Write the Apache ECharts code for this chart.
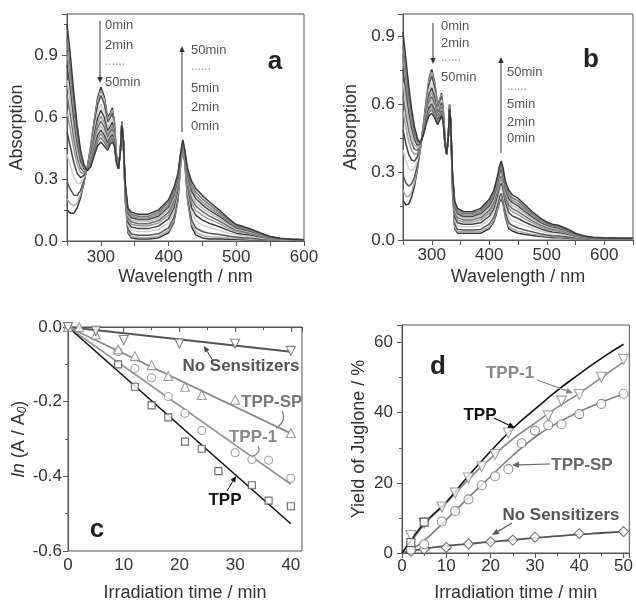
<!DOCTYPE html>
<html><head><meta charset="utf-8">
<script src="https://cdn.jsdelivr.net/npm/echarts@6/dist/echarts.min.js"></script>
<style>html,body{margin:0;padding:0;background:#fff}#c{width:636px;height:603px}</style>
</head><body><div id="c"></div>
<script>
// ---------- Panel a / b : spectra ----------
const timesMin = [0,2,5,10,15,20,25,30,35,40,45,50];
const wlA = [250,255,260,265,270,275,280,285,290,295,300,305,310,314,317,320,323,326,329,331,333,336,340,345,355,370,385,400,408,414,418,421,424,428,434,440,450,460,475,490,500,510,520,535,550,565,580,600];
const absA = [
[.15,.135,.135,.16,.21,.28,.36,.46,.58,.69,.745,.70,.60,.62,.645,.58,.42,.35,.45,.58,.50,.20,.04,.015,.01,.01,.015,.04,.09,.20,.38,.44,.38,.20,.07,.03,.015,.01,.01,.008,.008,.007,.006,.005,.005,.005,.005,.004],
[.204,.181,.17,.184,.224,.285,.359,.454,.57,.676,.729,.686,.59,.611,.635,.573,.418,.35,.449,.579,.50,.205,.047,.023,.017,.017,.023,.05,.10,.208,.383,.443,.384,.209,.083,.044,.027,.021,.018,.014,.012,.011,.009,.007,.006,.005,.005,.004],
[.285,.25,.223,.22,.245,.294,.357,.445,.554,.655,.705,.664,.576,.597,.62,.562,.414,.35,.449,.577,.50,.212,.058,.034,.028,.028,.035,.064,.116,.22,.388,.448,.389,.223,.103,.064,.046,.037,.031,.023,.019,.016,.014,.01,.008,.006,.006,.004],
[.42,.365,.311,.28,.279,.307,.354,.43,.529,.621,.665,.628,.552,.575,.595,.544,.408,.35,.447,.574,.50,.224,.076,.053,.046,.046,.056,.088,.141,.239,.395,.455,.398,.245,.136,.098,.077,.064,.052,.037,.03,.026,.022,.016,.01,.007,.006,.005],
[.528,.456,.381,.328,.307,.318,.352,.418,.509,.593,.634,.599,.533,.557,.576,.53,.403,.35,.446,.572,.50,.234,.09,.068,.06,.06,.072,.107,.161,.255,.401,.461,.405,.263,.162,.125,.101,.086,.069,.049,.038,.033,.029,.02,.012,.008,.007,.005],
[.627,.54,.445,.372,.332,.328,.349,.407,.49,.568,.605,.573,.515,.54,.558,.516,.399,.35,.445,.569,.50,.242,.104,.081,.074,.074,.087,.125,.18,.269,.407,.467,.412,.28,.187,.149,.124,.105,.084,.059,.046,.04,.035,.024,.014,.009,.007,.005],
[.708,.609,.498,.408,.353,.336,.348,.398,.475,.547,.581,.551,.501,.527,.543,.506,.395,.35,.444,.568,.50,.25,.114,.093,.084,.084,.099,.139,.195,.281,.411,.471,.417,.293,.206,.17,.142,.122,.097,.068,.053,.046,.039,.027,.016,.01,.007,.005],
[.78,.671,.545,.44,.371,.343,.346,.39,.461,.529,.559,.532,.488,.515,.529,.496,.392,.35,.443,.566,.50,.256,.124,.103,.094,.094,.11,.152,.209,.291,.415,.475,.422,.305,.224,.188,.159,.136,.108,.076,.058,.051,.044,.03,.017,.011,.008,.005],
[.852,.732,.591,.472,.389,.35,.344,.382,.447,.511,.538,.513,.475,.503,.516,.486,.389,.35,.442,.564,.50,.262,.134,.113,.104,.104,.12,.165,.223,.301,.419,.479,.427,.317,.242,.206,.175,.15,.119,.084,.064,.056,.048,.032,.018,.011,.008,.006],
[.915,.785,.632,.50,.406,.357,.343,.375,.435,.494,.52,.496,.464,.492,.505,.478,.386,.35,.442,.563,.50,.268,.142,.121,.112,.112,.13,.176,.235,.311,.423,.483,.431,.328,.257,.221,.189,.163,.129,.09,.069,.061,.052,.035,.019,.012,.008,.006],
[.978,.839,.673,.528,.422,.363,.342,.368,.424,.478,.501,.479,.453,.482,.493,.47,.383,.35,.441,.562,.50,.274,.15,.13,.12,.12,.139,.187,.246,.32,.426,.486,.435,.338,.272,.237,.204,.176,.139,.097,.074,.065,.056,.037,.021,.012,.009,.006],
[1.05,.90,.72,.56,.44,.37,.34,.36,.41,.46,.48,.46,.44,.47,.48,.46,.38,.35,.44,.56,.50,.28,.16,.14,.13,.13,.15,.20,.26,.33,.43,.49,.44,.35,.29,.255,.22,.19,.15,.105,.08,.07,.06,.04,.022,.013,.009,.006]
];
const wlB = [250,255,260,265,270,275,280,285,290,295,300,305,310,314,317,320,323,326,329,331,333,336,340,345,355,370,385,400,408,414,418,421,424,428,434,440,450,460,475,490,500,510,520,535,550,565,580,600,625,650];
const absB = [
[.175,.155,.16,.19,.24,.31,.40,.50,.61,.71,.755,.70,.60,.62,.65,.58,.45,.38,.47,.60,.52,.22,.05,.03,.03,.03,.03,.05,.08,.13,.17,.18,.16,.10,.05,.04,.03,.025,.02,.015,.012,.01,.01,.008,.007,.006,.005,.005,.004,.004],
[.22,.194,.191,.213,.256,.318,.402,.498,.604,.70,.743,.69,.595,.615,.644,.576,.448,.38,.469,.599,.52,.225,.057,.037,.036,.036,.037,.058,.088,.139,.18,.19,.17,.11,.06,.05,.039,.033,.026,.02,.016,.014,.013,.011,.008,.007,.005,.005,.004,.004],
[.287,.252,.238,.249,.279,.331,.405,.494,.595,.686,.726,.676,.586,.606,.635,.571,.446,.38,.469,.597,.52,.232,.068,.047,.044,.044,.047,.07,.101,.153,.194,.206,.184,.124,.076,.064,.053,.045,.036,.027,.022,.019,.018,.014,.01,.008,.006,.006,.005,.005],
[.399,.349,.316,.307,.318,.352,.409,.488,.58,.662,.696,.652,.573,.593,.62,.562,.441,.38,.467,.594,.52,.244,.086,.063,.059,.059,.063,.089,.122,.175,.218,.231,.208,.148,.101,.088,.077,.066,.052,.039,.032,.028,.027,.021,.014,.01,.007,.007,.005,.005],
[.488,.426,.378,.354,.349,.369,.413,.483,.568,.643,.673,.633,.562,.582,.608,.555,.437,.38,.466,.592,.52,.254,.10,.076,.07,.07,.076,.105,.139,.193,.237,.251,.227,.167,.121,.107,.095,.082,.064,.049,.041,.035,.033,.026,.017,.011,.008,.007,.006,.006],
[.57,.497,.436,.397,.378,.384,.416,.479,.557,.625,.652,.615,.552,.572,.597,.548,.434,.38,.465,.589,.52,.262,.114,.088,.08,.08,.088,.119,.154,.21,.255,.27,.245,.185,.14,.125,.112,.097,.076,.057,.048,.042,.039,.03,.019,.012,.009,.008,.006,.006],
[.637,.555,.482,.432,.401,.397,.419,.475,.548,.611,.634,.601,.544,.564,.588,.543,.431,.38,.464,.588,.52,.27,.124,.098,.089,.089,.098,.131,.167,.223,.269,.285,.259,.199,.155,.139,.126,.109,.085,.065,.054,.047,.044,.034,.021,.013,.009,.008,.006,.006],
[.697,.607,.524,.463,.422,.408,.421,.472,.54,.598,.618,.588,.537,.557,.58,.538,.429,.38,.463,.586,.52,.276,.134,.107,.097,.097,.107,.141,.178,.235,.282,.299,.272,.212,.169,.152,.139,.12,.094,.071,.06,.052,.049,.037,.023,.014,.01,.009,.007,.007],
[.756,.658,.566,.494,.443,.419,.423,.469,.532,.585,.603,.575,.53,.55,.572,.533,.427,.38,.462,.584,.52,.282,.144,.116,.104,.104,.116,.151,.189,.247,.295,.313,.285,.225,.183,.165,.151,.13,.102,.077,.065,.057,.053,.041,.025,.015,.01,.009,.007,.007],
[.808,.703,.602,.522,.461,.429,.426,.466,.525,.574,.589,.564,.523,.543,.565,.529,.425,.38,.462,.583,.52,.288,.152,.124,.111,.111,.124,.161,.199,.258,.306,.325,.296,.236,.195,.176,.162,.14,.109,.083,.07,.061,.057,.044,.027,.016,.011,.009,.007,.007],
[.86,.748,.638,.549,.479,.439,.428,.463,.518,.563,.576,.553,.517,.537,.558,.525,.422,.38,.461,.582,.52,.294,.16,.131,.117,.117,.131,.17,.209,.268,.317,.336,.307,.247,.206,.187,.173,.149,.117,.089,.075,.065,.061,.047,.028,.017,.011,.01,.008,.008],
[.92,.80,.68,.58,.50,.45,.43,.46,.51,.55,.56,.54,.51,.53,.55,.52,.42,.38,.46,.58,.52,.30,.17,.14,.125,.125,.14,.18,.22,.28,.33,.35,.32,.26,.22,.20,.185,.16,.125,.095,.08,.07,.065,.05,.03,.018,.012,.01,.008,.008]
];

// ---------- Panel c : ln(A/A0) ----------
const tC_tpp   = [0,9,12,15,18,21,24,27,33,36,40];
const lnC_tpp  = [0,-0.1,-0.16,-0.21,-0.242,-0.307,-0.326,-0.386,-0.424,-0.465,-0.48];
const tC_tpp1  = [0,9,12,15,18,21,24,30,33,36,40];
const lnC_tpp1 = [0,-0.066,-0.111,-0.136,-0.186,-0.231,-0.277,-0.337,-0.355,-0.357,-0.405];
const tC_sp    = [0,2,5,9,12,15,18,21,24,30,40];
const lnC_sp   = [0,0,-0.02,-0.06,-0.078,-0.102,-0.131,-0.16,-0.182,-0.195,-0.284];
const tC_none  = [0,5,10,20,30,40];
const lnC_none = [0,-0.01,-0.035,-0.044,-0.045,-0.064];
const tC_fit   = [0,40];
const fitC_tpp = [0,-0.527];
const fitC_tpp1= [0,-0.421];
const fitC_sp  = [0,-0.285];
const fitC_none= [0,-0.066];

// ---------- Panel d : yield of juglone ----------
const tD_fit      = [0,2,5,10,15,20,25,30,35,40,45,50];
const yD_tpp_fit  = [0,3.5,8.5,14.5,22,29,35.5,41,46.3,51,55.5,59.5];
const yD_tpp1_fit = [0,3.2,8,14.3,21,27,32.5,37,41.5,45.5,50,54.5];
const yD_sp_fit   = [0,1,3.5,9.5,15.8,21.8,27.8,33,37,40.3,43,45.3];
const yD_none_fit = [0,0.5,1.2,2,2.6,3.2,3.7,4.3,4.8,5.3,5.7,6.1];
const tD_tpp  = [2,5];
const yD_tpp  = [3,8.8];
const tD_tpp1 = [2,5,9,12,15,18,21,24,33,36,40,45,50];
const yD_tpp1 = [5,8.5,13.1,17.1,21.4,24.6,28.1,34.2,39.1,43.3,45.2,50.1,55.2];
const tD_sp   = [2,5,9,12,15,18,21,24,27,30,33,36,40,45,50];
const yD_sp   = [1,2.5,9,12,15.3,19.3,21.9,23.9,31.3,34.9,36.4,36.7,39.6,42.5,45.4];
const tD_none = [2,5,10,15,20,25,30,40,50];
const yD_none = [0.5,1.1,1.6,2.6,3.2,3.7,4.5,5.5,6.1];

// ---------- drawing ----------
const FONT = '"Liberation Sans", Arial, Helvetica, sans-serif';
const zip = (xs, ys) => xs.map((x, i) => [x, ys[i]]);
const isMult = (v, step) => Math.abs(v / step - Math.round(v / step)) < 1e-6;
const grays = ['#333','#aaa','#555','#cfcfcf','#444','#9a9a9a','#6a6a6a','#bdbdbd','#4a4a4a','#8a8a8a','#777','#3a3a3a'];

const grids = [
  {left:67, top:14, width:237, height:227},
  {left:403, top:14, width:232, height:226},
  {left:68, top:327, width:234, height:224},
  {left:402, top:325, width:231, height:228}
].map(g => Object.assign(g, {show:true, borderColor:'#555', borderWidth:1, containLabel:false}));

function xAx(idx, min, max, step, labStep, name, gap, margin, minor) {
  return {type:'value', gridIndex:idx, min, max, interval:step,
    name, nameLocation:'middle', nameGap:gap,
    nameTextStyle:{fontFamily:FONT, fontSize:18, color:'#333'},
    axisLine:{lineStyle:{color:'#555', width:1}},
    axisTick:{show:true, inside:false, length:5, lineStyle:{color:'#555'}},
    minorTick: minor ? {show:true, splitNumber:2, length:3, lineStyle:{color:'#555'}} : {show:false},
    splitLine:{show:false},
    axisLabel:{fontFamily:FONT, fontSize:17, color:'#333', margin,
      formatter: v => isMult(v, labStep) ? String(Math.round(v)) : ''}};
}
function yAx(idx, min, max, step, name, gap, margin, fmt, rich) {
  const ax = {type:'value', gridIndex:idx, min, max, interval:step,
    name, nameLocation:'middle', nameGap:gap,
    nameTextStyle:{fontFamily:FONT, fontSize:18, color:'#333'},
    axisLine:{show:true, lineStyle:{color:'#555', width:1}},
    axisTick:{show:true, inside:false, length:5, lineStyle:{color:'#555'}},
    minorTick:{show:true, splitNumber:2, length:3, lineStyle:{color:'#555'}},
    splitLine:{show:false},
    axisLabel:{fontFamily:FONT, fontSize:17, color:'#333', margin, formatter: fmt}};
  if (rich) ax.nameTextStyle.rich = rich;
  return ax;
}
const fmt03 = v => isMult(v, 0.3) ? v.toFixed(1) : '';
const fmt02 = v => isMult(v, 0.2) ? (Math.abs(v) < 1e-9 ? '0.0' : v.toFixed(1)) : '';
const fmt20 = v => isMult(v, 20) ? String(Math.round(v)) : '';

const xAxes = [
  xAx(0, 250, 600, 50, 100, 'Wavelength / nm', 27, 8, false),
  xAx(1, 250, 650, 50, 100, 'Wavelength / nm', 28, 7, false),
  xAx(2, 0, 42, 10, 10, 'Irradiation time / min', 33, 6, true),
  xAx(3, 0, 51.3, 10, 10, 'Irradiation time / min', 31, 5, true)
];
const lnRich = {
  i:{fontFamily:FONT, fontSize:18, fontStyle:'italic', color:'#333'},
  n:{fontFamily:FONT, fontSize:18, color:'#333'},
  s:{fontFamily:FONT, fontSize:12, fontStyle:'italic', color:'#333', verticalAlign:'bottom', padding:[8,0,0,0]}
};
const yAxes = [
  yAx(0, 0, 1.1, 0.3, 'Absorption', 41, 9, fmt03),
  yAx(1, 0, 1.0, 0.3, 'Absorption', 43, 8, fmt03),
  yAx(2, -0.6, 0, 0.2, '{i|ln} {n|(A / A}{s|0}{n|)}', 38, 6, fmt02, lnRich),
  yAx(3, 0, 65, 20, 'Yield of Juglone / %', 34, 9, fmt20)
];

const series = [];
absA.forEach((row, k) => series.push({type:'line', xAxisIndex:0, yAxisIndex:0, name:'a '+timesMin[k]+'min',
  data: zip(wlA, row), showSymbol:false, lineStyle:{width:1.5, color:grays[k]}, itemStyle:{color:grays[k]}, z:2}));
absB.forEach((row, k) => series.push({type:'line', xAxisIndex:1, yAxisIndex:1, name:'b '+timesMin[k]+'min',
  data: zip(wlB, row), showSymbol:false, lineStyle:{width:1.5, color:grays[k]}, itemStyle:{color:grays[k]}, z:2}));

function fitLine(xi, xs, ys, color, w, smooth) {
  return {type:'line', xAxisIndex:xi, yAxisIndex:xi, data:zip(xs, ys), showSymbol:false, smooth:smooth||false,
    lineStyle:{color, width:w||1.5}, itemStyle:{color}, z:3};
}
function pts(xi, xs, ys, symbol, color, size, rot) {
  return {type:'scatter', xAxisIndex:xi, yAxisIndex:xi, data:zip(xs, ys), symbol, symbolSize:size, symbolRotate:rot||0,
    itemStyle:{color:'#fff', borderColor:color, borderWidth:1.1}, z:4};
}
// panel c
series.push(fitLine(2, tC_fit, fitC_none, '#555', 2));
series.push(fitLine(2, tC_fit, fitC_sp, '#8a8a8a', 1.8));
series.push(fitLine(2, tC_fit, fitC_tpp1, '#9a9a9a', 1.8));
series.push(fitLine(2, tC_fit, fitC_tpp, '#111', 1.6));
series.push(pts(2, tC_tpp, lnC_tpp, 'rect', '#444', 7));
series.push(pts(2, tC_tpp1, lnC_tpp1, 'circle', '#888', 8));
series.push(pts(2, tC_sp, lnC_sp, 'triangle', '#888', 9));
series.push(pts(2, tC_none, lnC_none, 'triangle', '#666', 9, 180));
// panel d
series.push(fitLine(3, tD_fit, yD_none_fit, '#555', 1.8, true));
series.push(fitLine(3, tD_fit, yD_sp_fit, '#808080', 1.6, true));
series.push(fitLine(3, tD_fit, yD_tpp1_fit, '#8a8a8a', 1.6, true));
series.push(fitLine(3, tD_fit, yD_tpp_fit, '#111', 1.6, true));
series.push(pts(3, tD_none, yD_none, 'diamond', '#555', 10));
series.push(pts(3, tD_sp, yD_sp, 'circle', '#777', 9));
series.push(pts(3, tD_tpp1, yD_tpp1, 'triangle', '#888', 10, 180));
series.push(pts(3, tD_tpp, yD_tpp, 'rect', '#333', 8));

// ---------- annotations ----------
function arrow(x1, y1, x2, y2, color, w, head) {
  const a = Math.atan2(y2 - y1, x2 - x1), h = head || 6, hw = h * 0.45;
  const bx = x2 - h * Math.cos(a), by = y2 - h * Math.sin(a);
  const px = -Math.sin(a) * hw, py = Math.cos(a) * hw;
  return [
    {type:'line', silent:true, z:50, shape:{x1, y1, x2:bx, y2:by}, style:{stroke:color, lineWidth:w || 1}},
    {type:'polygon', silent:true, z:50, shape:{points:[[x2,y2],[bx+px,by+py],[bx-px,by-py]]}, style:{fill:color}}
  ];
}
function txt(x, y, s, size, color, bold, align) {
  return {type:'text', silent:true, z:50, x, y, style:{text:s, fill:color,
    font:(bold ? 'bold ' : '') + size + 'px ' + FONT,
    textAlign:align || 'left', align:align || 'left', textVerticalAlign:'middle', verticalAlign:'middle'}};
}
function curl(x1, y1, cx, cy, x2, y2, color) {
  return {type:'bezierCurve', silent:true, z:50, shape:{x1, y1, cpx1:cx, cpy1:cy, x2, y2}, style:{stroke:color, lineWidth:1.3, fill:null}};
}
const G = [];
// a
G.push(...arrow(100, 21, 100, 83, '#333', 1, 6));
G.push(txt(105, 25, '0min', 13, '#555'), txt(105, 45, '2min', 13, '#555'), txt(105, 62, '......', 12, '#999'), txt(105, 82, '50min', 13, '#555'));
G.push(...arrow(182, 132, 182, 46, '#333', 1, 6));
G.push(txt(191, 50, '50min', 13, '#555'), txt(191, 67, '......', 12, '#999'), txt(191, 88, '5min', 13, '#555'), txt(191, 107, '2min', 13, '#555'), txt(191, 126, '0min', 13, '#555'));
G.push(txt(275, 62, 'a', 26, '#222', true, 'center'));
// b
G.push(...arrow(433, 23, 433, 64, '#333', 1, 6));
G.push(txt(441, 26, '0min', 13, '#555'), txt(441, 43, '2min', 13, '#555'), txt(441, 58, '......', 12, '#999'), txt(441, 77, '50min', 13, '#555'));
G.push(...arrow(501, 153, 501, 57, '#333', 1, 6));
G.push(txt(507, 72, '50min', 13, '#555'), txt(507, 87, '......', 12, '#999'), txt(507, 104, '5min', 13, '#555'), txt(507, 122, '2min', 13, '#555'), txt(507, 138, '0min', 13, '#555'));
G.push(txt(591, 60, 'b', 26, '#222', true, 'center'));
// c
G.push(txt(241, 366, 'No Sensitizers', 17, '#555', true, 'center'));
G.push(...arrow(213, 361, 204, 346, '#444', 1, 6));
G.push(txt(241, 402, 'TPP-SP', 17, '#777', true, 'left'));
G.push(curl(282, 411, 287, 421, 276, 428, '#777'));
G.push(txt(253, 437, 'TPP-1', 17, '#888', true, 'center'));
G.push(curl(258, 446, 262, 452, 252, 457, '#888'));
G.push(txt(225, 500, 'TPP', 17, '#111', true, 'center'));
G.push(...arrow(227, 491, 236, 476, '#111', 1, 6));
G.push(txt(97, 530, 'c', 26, '#222', true, 'center'));
// d
G.push(txt(438, 367, 'd', 26, '#222', true, 'center'));
G.push(txt(510, 373, 'TPP-1', 17, '#888', true, 'center'));
G.push(...arrow(537, 380, 573, 393, '#888', 1.2, 7));
G.push(txt(480, 415, 'TPP', 17, '#111', true, 'center'));
G.push(...arrow(494, 418, 515, 428, '#111', 1.2, 7));
G.push(txt(582, 465, 'TPP-SP', 17, '#666', true, 'center'));
G.push(...arrow(550, 464, 512, 465, '#666', 1.2, 7));
G.push(txt(561, 515, 'No Sensitizers', 17, '#555', true, 'center'));
G.push(...arrow(512, 523, 492, 535, '#555', 1.2, 7));

const chart = echarts.init(document.getElementById('c'), null, {renderer:'canvas'});
chart.setOption({
  animation:false,
  backgroundColor:'#fff',
  textStyle:{fontFamily:FONT},
  grid:grids, xAxis:xAxes, yAxis:yAxes, series, graphic:G
});
</script></body></html>
